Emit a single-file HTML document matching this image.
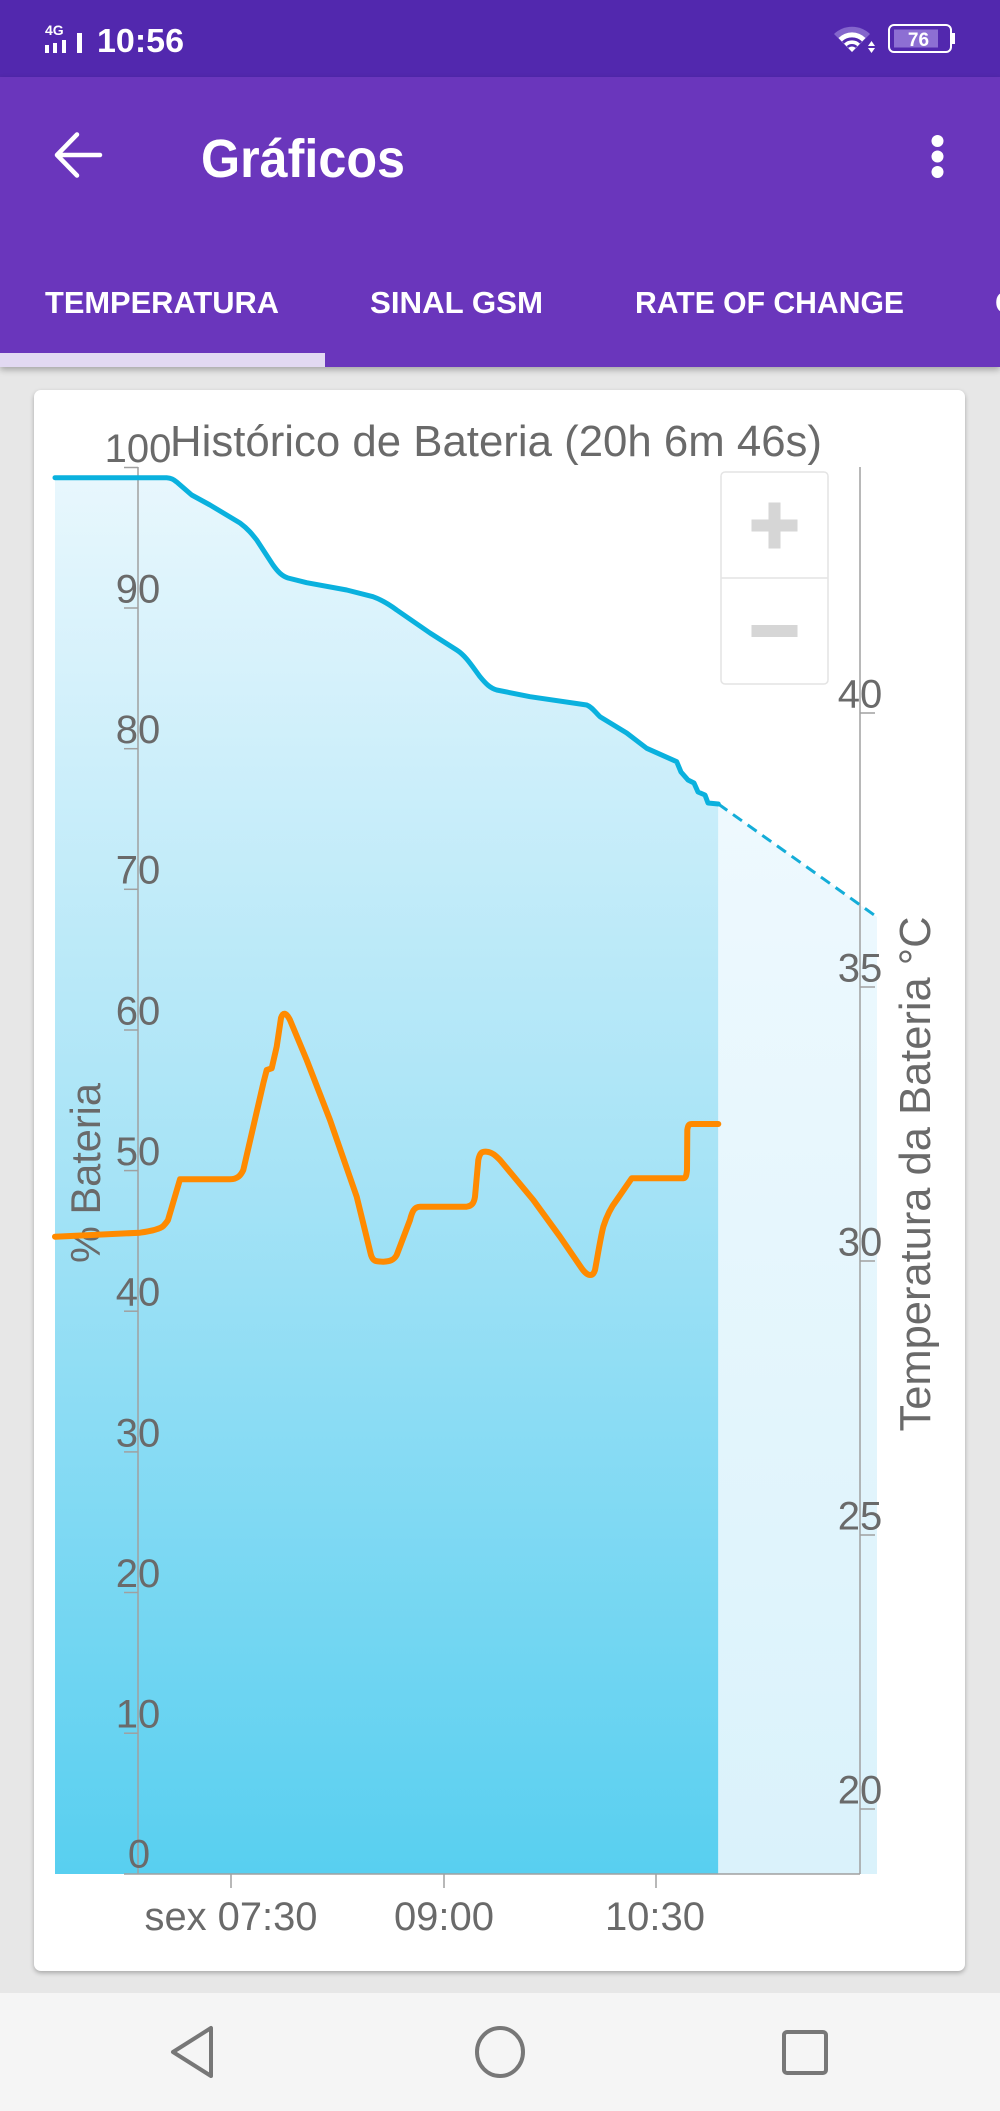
<!DOCTYPE html>
<html>
<head>
<meta charset="utf-8">
<style>
  html, body { margin:0; padding:0; }
  body { width:1000px; height:2111px; position:relative; overflow:hidden; background:#E7E7E7; font-family:"Liberation Sans", sans-serif; }
  .status { position:absolute; left:0; top:0; width:1000px; height:77px; background:#5228AE; }
  .appbar { position:absolute; left:0; top:77px; width:1000px; height:290px; background:#6A36BC; box-shadow:0 3px 6px rgba(0,0,0,0.28); }
  .card { position:absolute; left:34px; top:390px; width:931px; height:1581px; background:#fff; border-radius:7px; box-shadow:0 2px 5px rgba(0,0,0,0.28); }
  .nav { position:absolute; left:0; top:1993px; width:1000px; height:118px; background:#F5F5F5; }
  svg { position:absolute; left:0; top:0; }
</style>
</head>
<body>
<div class="status"></div>
<div class="appbar"></div>
<div class="card"></div>
<div class="nav"></div>

<svg width="1000" height="2111" viewBox="0 0 1000 2111" xmlns="http://www.w3.org/2000/svg">
  <defs>
    <linearGradient id="gMain" x1="0" y1="477" x2="0" y2="1874" gradientUnits="userSpaceOnUse">
      <stop offset="0" stop-color="#E8F7FD"/>
      <stop offset="0.5" stop-color="#A6E3F6"/>
      <stop offset="1" stop-color="#58CFF0"/>
    </linearGradient>
    <linearGradient id="gLight" x1="0" y1="804" x2="0" y2="1874" gradientUnits="userSpaceOnUse">
      <stop offset="0" stop-color="#EEF9FE"/>
      <stop offset="1" stop-color="#DAF2FB"/>
    </linearGradient>
  </defs>

  <!-- STATUS BAR -->
  <text x="45" y="35" font-family="Liberation Sans, sans-serif" font-weight="bold" font-size="14" fill="#fff">4G</text>
  <rect x="45" y="45" width="4" height="8" fill="#fff"/>
  <rect x="53" y="43" width="4" height="10" fill="#fff"/>
  <rect x="62" y="40" width="4" height="13" fill="#fff"/>
  <rect x="77" y="33" width="5" height="20" fill="#fff"/>
  <text x="97" y="52" font-family="Liberation Sans, sans-serif" font-weight="bold" font-size="33" fill="#fff" textLength="87" lengthAdjust="spacingAndGlyphs">10:56</text>

  <!-- wifi -->
  <path d="M852,52 L834,34 A26,26 0 0 1 870,34 Z" fill="#8466CC"/>
  <path d="M852,52 L838.5,38 A19,19 0 0 1 865.5,38 Z" fill="#fff"/>
  <path d="M843,42.5 A13,13 0 0 1 861,42.5" stroke="#5228AE" stroke-width="3" fill="none"/>
  <path d="M847.5,47 A6.5,6.5 0 0 1 856.5,47" stroke="#5228AE" stroke-width="2.5" fill="none"/>
  <path d="M868,46 L871.5,41 L875,46 Z" fill="#fff"/>
  <path d="M868,48 L875,48 L871.5,53 Z" fill="#fff"/>
  <!-- battery -->
  <rect x="889" y="25" width="62" height="27" rx="5" ry="5" fill="none" stroke="#fff" stroke-width="2"/>
  <rect x="952" y="33" width="3" height="11" fill="#fff"/>
  <rect x="894" y="29.5" width="44" height="18" fill="#8D6FD3"/>
  <text x="918.5" y="46" text-anchor="middle" font-family="Liberation Sans, sans-serif" font-weight="bold" font-size="19" fill="#fff">76</text>

  <!-- APP BAR -->
  <path d="M57,155 L100,155 M57,155 L77,134.5 M57,155 L77,175.5" stroke="#fff" stroke-width="4.5" fill="none" stroke-linecap="round" stroke-linejoin="round"/>
  <text x="201" y="177" font-family="Liberation Sans, sans-serif" font-weight="bold" font-size="54" fill="#fff" textLength="204" lengthAdjust="spacingAndGlyphs">Gráficos</text>
  <circle cx="937.5" cy="141" r="6" fill="#fff"/>
  <circle cx="937.5" cy="156.5" r="6" fill="#fff"/>
  <circle cx="937.5" cy="172" r="6" fill="#fff"/>

  <!-- TABS -->
  <text x="45" y="313" font-family="Liberation Sans, sans-serif" font-weight="bold" font-size="31" fill="#fff" textLength="234" lengthAdjust="spacingAndGlyphs">TEMPERATURA</text>
  <text x="370" y="313" font-family="Liberation Sans, sans-serif" font-weight="bold" font-size="31" fill="#fff" textLength="173" lengthAdjust="spacingAndGlyphs">SINAL GSM</text>
  <text x="635" y="313" font-family="Liberation Sans, sans-serif" font-weight="bold" font-size="31" fill="#fff" textLength="269" lengthAdjust="spacingAndGlyphs">RATE OF CHANGE</text>
  <text x="995" y="313" font-family="Liberation Sans, sans-serif" font-weight="bold" font-size="31" fill="#fff">CICLOS</text>
  <rect x="0" y="353" width="325" height="14" fill="#E2D9F2"/>

  <!-- CHART FILLS -->
  <path d="M55,477.7 L166.7,477.7 C172,478 174,480 176.7,482 L191.7,495 L210,505 L240,523 C248,529 252,534 256.7,540 L273,565 C278,572 282,576 288,578 L306.7,582.7 L346.7,590 L373,596.7 C382,600 390,605 396.7,610 L430,633 L456.7,650 C466,656 472,666 480,676.7 C486,684 490,688 496.7,690 L530,696.7 L586.7,705 C592,707 595,712 600,716.7 L626.7,733 L646.7,748.3 L676.7,761.7 L681,772 L688,780 L694,783 L698,792 L705,795 L708,803 L718.3,804 L718.3,1874 L55,1874 Z" fill="url(#gMain)"/>
  <path d="M718.3,804 L877,917 L877,1874 L718.3,1874 Z" fill="url(#gLight)"/>

  <!-- ZOOM BUTTONS -->
  <rect x="721" y="472" width="107" height="212" rx="4" ry="4" fill="#fff" stroke="#E4E4E4" stroke-width="1.5"/>
  <line x1="721" y1="578" x2="828" y2="578" stroke="#E4E4E4" stroke-width="1.5"/>
  <rect x="751.5" y="519.5" width="46" height="12" fill="#D6D6D6"/>
  <rect x="768.5" y="502.5" width="12" height="46" fill="#D6D6D6"/>
  <rect x="751.5" y="625" width="46" height="12" fill="#D6D6D6"/>

  <!-- AXES -->
  <g stroke="#A0A0A0" stroke-width="1.5" fill="none">
    <line x1="138" y1="467" x2="138" y2="1874"/>
    <line x1="860" y1="467" x2="860" y2="1874"/>
    <line x1="124" y1="1874" x2="860" y2="1874"/>
    <!-- left ticks -->
    <line x1="124" y1="467.5" x2="138" y2="467.5"/>
    <line x1="124" y1="608" x2="138" y2="608"/>
    <line x1="124" y1="748.7" x2="138" y2="748.7"/>
    <line x1="124" y1="889.3" x2="138" y2="889.3"/>
    <line x1="124" y1="1030" x2="138" y2="1030"/>
    <line x1="124" y1="1170.6" x2="138" y2="1170.6"/>
    <line x1="124" y1="1311.2" x2="138" y2="1311.2"/>
    <line x1="124" y1="1451.9" x2="138" y2="1451.9"/>
    <line x1="124" y1="1592.5" x2="138" y2="1592.5"/>
    <line x1="124" y1="1733.2" x2="138" y2="1733.2"/>
    <!-- right ticks -->
    <line x1="860" y1="713" x2="875" y2="713"/>
    <line x1="860" y1="987" x2="875" y2="987"/>
    <line x1="860" y1="1261" x2="875" y2="1261"/>
    <line x1="860" y1="1535" x2="875" y2="1535"/>
    <line x1="860" y1="1809" x2="875" y2="1809"/>
    <!-- bottom ticks -->
    <line x1="231" y1="1874" x2="231" y2="1888"/>
    <line x1="444" y1="1874" x2="444" y2="1888"/>
    <line x1="656" y1="1874" x2="656" y2="1888"/>
  </g>

  <!-- LEFT LABELS -->
  <g font-family="Liberation Sans, sans-serif" font-size="40" fill="#6A6A6A" text-anchor="middle">
    <text x="138" y="462">100</text>
    <text x="138" y="602.5">90</text>
    <text x="138" y="743">80</text>
    <text x="138" y="883.5">70</text>
    <text x="138" y="1024.5">60</text>
    <text x="138" y="1165">50</text>
    <text x="138" y="1305.5">40</text>
    <text x="138" y="1446.5">30</text>
    <text x="138" y="1587">20</text>
    <text x="138" y="1727.5">10</text>
    <text x="139" y="1867.5">0</text>
    <!-- right labels -->
    <text x="860" y="707.5">40</text>
    <text x="860" y="981.5">35</text>
    <text x="860" y="1255.5">30</text>
    <text x="860" y="1529.5">25</text>
    <text x="860" y="1803.5">20</text>
    <!-- bottom labels -->
    <text x="231" y="1930" textLength="173" lengthAdjust="spacingAndGlyphs">sex 07:30</text>
    <text x="444" y="1930">09:00</text>
    <text x="655" y="1930">10:30</text>
  </g>

  <!-- TITLE -->
  <text x="170" y="456" font-family="Liberation Sans, sans-serif" font-size="44" fill="#6A6A6A" textLength="652" lengthAdjust="spacingAndGlyphs">Histórico de Bateria (20h 6m 46s)</text>

  <!-- AXIS TITLES -->
  <text transform="translate(100,1173) rotate(-90)" text-anchor="middle" font-family="Liberation Sans, sans-serif" font-size="42" fill="#6A6A6A" textLength="180" lengthAdjust="spacingAndGlyphs">% Bateria</text>
  <text transform="translate(930,1174) rotate(-90)" text-anchor="middle" font-family="Liberation Sans, sans-serif" font-size="44" fill="#6A6A6A" textLength="515" lengthAdjust="spacingAndGlyphs">Temperatura da Bateria °C</text>

  <!-- SERIES -->
  <path d="M718.3,804 L877,917" stroke="#14ADD8" stroke-width="3" stroke-dasharray="11 7" fill="none"/>
  <path d="M55,477.7 L166.7,477.7 C172,478 174,480 176.7,482 L191.7,495 L210,505 L240,523 C248,529 252,534 256.7,540 L273,565 C278,572 282,576 288,578 L306.7,582.7 L346.7,590 L373,596.7 C382,600 390,605 396.7,610 L430,633 L456.7,650 C466,656 472,666 480,676.7 C486,684 490,688 496.7,690 L530,696.7 L586.7,705 C592,707 595,712 600,716.7 L626.7,733 L646.7,748.3 L676.7,761.7 L681,772 L688,780 L694,783 L698,792 L705,795 L708,803 L718.3,804" stroke="#0AB1DE" stroke-width="5" fill="none" stroke-linejoin="round" stroke-linecap="round"/>
  <path d="M55,1236.7 L140,1232.7 C152,1231 160,1229 163.3,1226 C166,1223 167,1222 168,1220 L180,1179.3 L230,1179.3 C238,1179 241,1175 243.3,1170 L263.3,1083.3 L266.7,1070 L271.7,1068.3 L276.7,1046.7 L281,1018 C283,1012 286,1012 290,1020 L306.7,1060 L330,1120 L356.7,1196.7 L371,1255 C373,1261 375,1261.7 383.3,1261.7 C390,1261.5 394,1260 396.7,1255 L410,1220 C412,1212 414,1206.7 420,1206.7 L466.7,1206.7 C472,1206 474,1203 475,1196.7 L478.3,1160 C480,1152 482,1151.5 486.7,1151.7 C492,1152 496,1156 500,1160 L533.3,1200 L560,1236.7 L581.7,1268.3 C585,1273 588,1275 590,1275 C593,1275 594,1273 595,1270 C597,1260 600,1240 603.3,1226.7 C607,1215 612,1206 616.7,1200 L631.7,1178.3 L683.3,1178.3 C686,1178 686.5,1175 687,1170 L687.3,1130 C688,1125 689,1124 692,1124 L718.3,1124" stroke="#FF8A00" stroke-width="6" fill="none" stroke-linejoin="round" stroke-linecap="round"/>

  <!-- NAV BAR ICONS -->
  <path d="M211,2028 L211,2076 L173,2052 Z" stroke="#777" stroke-width="4" fill="none" stroke-linejoin="round"/>
  <ellipse cx="500" cy="2052" rx="23" ry="24" stroke="#777" stroke-width="4" fill="none"/>
  <rect x="784" y="2032" width="42" height="41" rx="3" ry="3" stroke="#777" stroke-width="4" fill="none"/>
</svg>
</body>
</html>
